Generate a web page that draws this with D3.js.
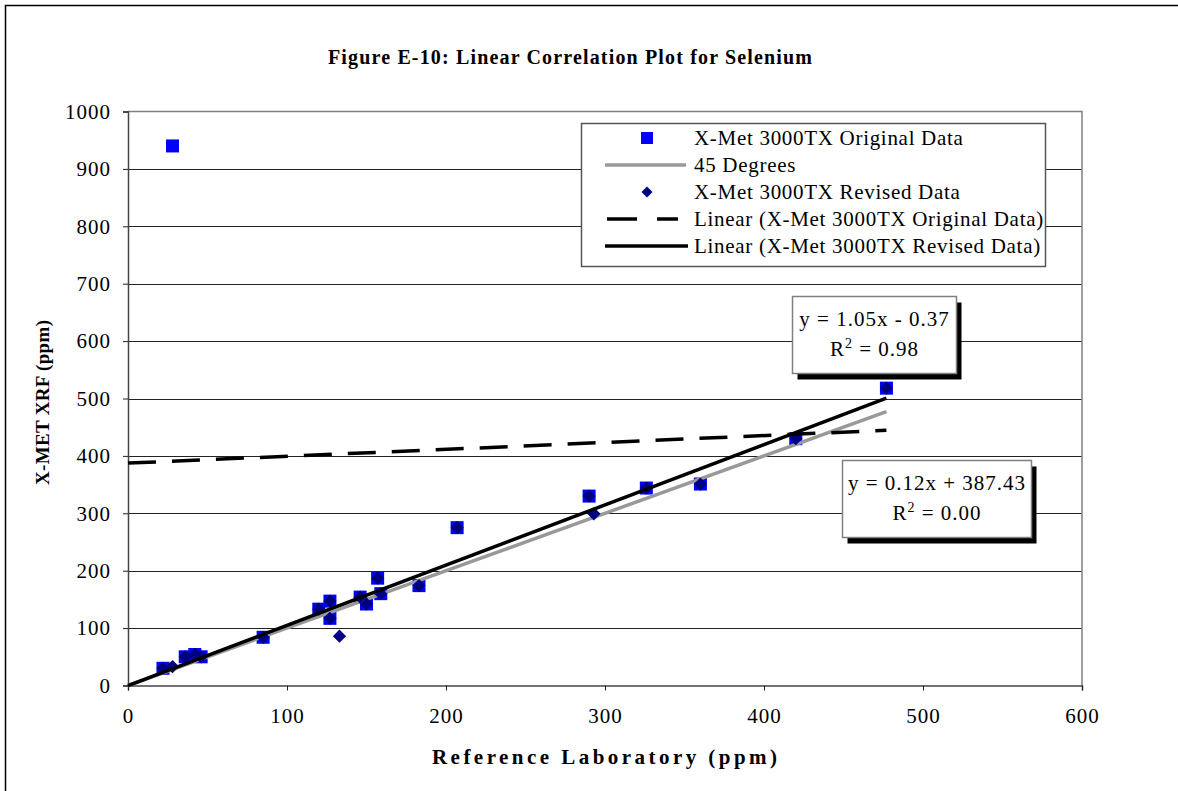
<!DOCTYPE html>
<html>
<head>
<meta charset="utf-8">
<script src="https://cdn.jsdelivr.net/npm/d3@7"></script>
<style>
  body { margin: 0; background: #fff; }
  text { font-family: "Liberation Serif", "Times New Roman", serif; fill: #000; }
</style>
</head>
<body>
<svg width="1178" height="791"></svg>
<script>
// Original X-Met readings (reference ppm, xrf ppm)
var originalX = [28, 22, 36, 42, 46, 85, 120, 127, 127, 146, 150, 157, 159, 183, 207, 290, 326, 360, 420, 477];
var originalY = [940, 30, 50, 54, 50, 84, 133, 147, 117, 154, 142, 187, 160, 174, 275, 330, 344, 351, 430, 518];

// Revised readings
var revisedX = [28, 22, 36, 42, 46, 85, 120, 127, 127, 133, 146, 150, 157, 159, 183, 207, 290, 293, 326, 360, 420, 477];
var revisedY = [33, 30, 50, 54, 50, 84, 133, 147, 117, 86, 154, 142, 187, 160, 174, 275, 330, 299, 344, 351, 430, 518];

// Trend line coefficients [slope, intercept] and x range
var origFit = [0.12, 387.43];
var revFit = [1.05, -0.37];
var fitRange = [0, 477];
var diagRange = [0, 477];

var xTicks = [0, 100, 200, 300, 400, 500, 600];
var yTicks = [0, 100, 200, 300, 400, 500, 600, 700, 800, 900, 1000];

var legendLabels = ["X-Met 3000TX Original Data", "45 Degrees", "X-Met 3000TX Revised Data",
  "Linear (X-Met 3000TX Original Data)", "Linear (X-Met 3000TX Revised Data)"];

var svg = d3.select("svg");

var x = d3.scaleLinear().domain([0, 600]).range([128, 1082]);
var y = d3.scaleLinear().domain([0, 1000]).range([685.5, 111.5]);

// outer frame (only left/top visible)
svg.append("rect")
    .attr("x", 5.5).attr("y", 5.5)
    .attr("width", 1300).attr("height", 1000)
    .attr("fill", "none").attr("stroke", "#000").attr("stroke-width", 1.5);

// title
svg.append("text")
    .attr("x", 328).attr("y", 64)
    .attr("textLength", 484).attr("lengthAdjust", "spacing")
    .style("font-size", "20px").style("font-weight", "bold")
    .text("Figure E-10:  Linear Correlation Plot for Selenium");

// gridlines
svg.append("g")
  .selectAll("line")
  .data(yTicks.slice(1, -1))
  .enter().append("line")
    .attr("x1", x(0)).attr("x2", x(600))
    .attr("y1", function(d) { return Math.round(y(d)) + 0.5; })
    .attr("y2", function(d) { return Math.round(y(d)) + 0.5; })
    .attr("stroke", "#222").attr("stroke-width", 1);

// plot border top/right
svg.append("path")
    .attr("d", "M" + x(0) + "," + (y(1000)) + "H" + x(600) + "V" + y(0))
    .attr("fill", "none").attr("stroke", "#808080").attr("stroke-width", 1.5);

// axes
var xAxis = svg.append("g")
    .attr("transform", "translate(0," + y(0) + ")")
    .call(d3.axisBottom(x).tickValues(xTicks).tickSize(5).tickPadding(18).tickFormat(d3.format("d")));
var yAxis = svg.append("g")
    .attr("transform", "translate(" + x(0) + ",0)")
    .call(d3.axisLeft(y).tickValues(yTicks).tickSize(5).tickPadding(12).tickFormat(d3.format("d")));

[xAxis, yAxis].forEach(function(a) {
  a.select(".domain").attr("stroke", "#444").attr("stroke-width", 1.5);
  a.selectAll(".tick line").attr("stroke", "#222");
  a.selectAll("text").style("font-size", "21px").style("letter-spacing", "1px").attr("font-family", null);
});

// axis titles
svg.append("text")
    .attr("x", 432).attr("y", 764)
    .attr("textLength", 345).attr("lengthAdjust", "spacing")
    .style("font-size", "21px").style("font-weight", "bold")
    .text("Reference Laboratory (ppm)");

svg.append("text")
    .attr("transform", "translate(49,485) rotate(-90)")
    .attr("textLength", 165).attr("lengthAdjust", "spacing")
    .style("font-size", "19px").style("font-weight", "bold")
    .text("X-MET XRF (ppm)");

// original data squares
var orig = originalX.map(function(d, i) { return { x: d, y: originalY[i] }; });
var rev = revisedX.map(function(d, i) { return { x: d, y: revisedY[i] }; });

svg.append("g")
  .selectAll("rect")
  .data(orig)
  .enter().append("rect")
    .attr("x", function(d) { return x(d.x) - 6.5; })
    .attr("y", function(d) { return y(d.y) - 6.5; })
    .attr("width", 13).attr("height", 13)
    .attr("fill", "#0000ff");

// 45 degree line
var line = d3.line()
    .x(function(d) { return x(d[0]); })
    .y(function(d) { return y(d[1]); });

svg.append("path")
    .attr("d", line(diagRange.map(function(v) { return [v, v]; })))
    .attr("stroke", "#999").attr("stroke-width", 3.5).attr("fill", "none");

// revised diamonds
svg.append("g")
  .selectAll("path")
  .data(rev)
  .enter().append("path")
    .attr("d", d3.symbol().type(d3.symbolSquare).size(88))
    .attr("transform", function(d) { return "translate(" + x(d.x) + "," + y(d.y) + ") rotate(45)"; })
    .attr("fill", "#000080");

// trend lines
svg.append("path")
    .attr("d", line(fitRange.map(function(v) { return [v, origFit[0] * v + origFit[1]]; })))
    .attr("stroke", "#000").attr("stroke-width", 3.5).attr("stroke-dasharray", "28,16").attr("fill", "none");

svg.append("path")
    .attr("d", line(fitRange.map(function(v) { return [v, revFit[0] * v + revFit[1]]; })))
    .attr("stroke", "#000").attr("stroke-width", 3.5).attr("fill", "none");

// equation boxes
function eqBox(bx, by, bw, bh, line1, r2) {
  svg.append("rect").attr("x", bx + 5).attr("y", by + 6).attr("width", bw).attr("height", bh).attr("fill", "#000");
  svg.append("rect").attr("x", bx).attr("y", by).attr("width", bw).attr("height", bh)
      .attr("fill", "#fff").attr("stroke", "#808080").attr("stroke-width", 1.5);
  svg.append("text").attr("x", bx + bw / 2).attr("y", by + 29).attr("text-anchor", "middle")
      .style("font-size", "21px").style("letter-spacing", "1px").text(line1);
  var t = svg.append("text").attr("x", bx + bw / 2).attr("y", by + 59).attr("text-anchor", "middle")
      .style("font-size", "21px").style("letter-spacing", "1px");
  t.append("tspan").text("R");
  t.append("tspan").attr("dy", -8).style("font-size", "14px").text("2");
  t.append("tspan").attr("dy", 8).text(" = " + r2);
}
eqBox(792.5, 296.5, 164, 77, "y = " + revFit[0].toFixed(2) + "x - " + Math.abs(revFit[1]).toFixed(2), "0.98");
eqBox(842.5, 460.5, 189, 77, "y = " + origFit[0].toFixed(2) + "x + " + origFit[1].toFixed(2), "0.00");

// legend
var lg = svg.append("g");
lg.append("rect").attr("x", 581.5).attr("y", 123.5).attr("width", 464).attr("height", 143)
    .attr("fill", "#fff").attr("stroke", "#555").attr("stroke-width", 1.5);

var rowY = function(i) { return 138 + i * 27; };
lg.selectAll("text.lab")
  .data(legendLabels)
  .enter().append("text")
    .attr("class", "lab")
    .attr("x", 694)
    .attr("y", function(d, i) { return rowY(i) + 7; })
    .style("font-size", "21px").style("letter-spacing", "0.7px")
    .text(function(d) { return d; });

lg.append("rect").attr("x", 641).attr("y", rowY(0) - 6).attr("width", 12).attr("height", 12).attr("fill", "#0000ff");
lg.append("line").attr("x1", 605).attr("x2", 686).attr("y1", rowY(1)).attr("y2", rowY(1))
    .attr("stroke", "#999").attr("stroke-width", 3.5);
lg.append("path").attr("d", d3.symbol().type(d3.symbolSquare).size(60))
    .attr("transform", "translate(647," + rowY(2) + ") rotate(45)").attr("fill", "#000080");
lg.append("line").attr("x1", 607).attr("x2", 678).attr("y1", rowY(3)).attr("y2", rowY(3))
    .attr("stroke", "#000").attr("stroke-width", 3.5).attr("stroke-dasharray", "30,20");
lg.append("line").attr("x1", 605).attr("x2", 688).attr("y1", rowY(4)).attr("y2", rowY(4))
    .attr("stroke", "#000").attr("stroke-width", 3.5);
</script>
</body>
</html>
